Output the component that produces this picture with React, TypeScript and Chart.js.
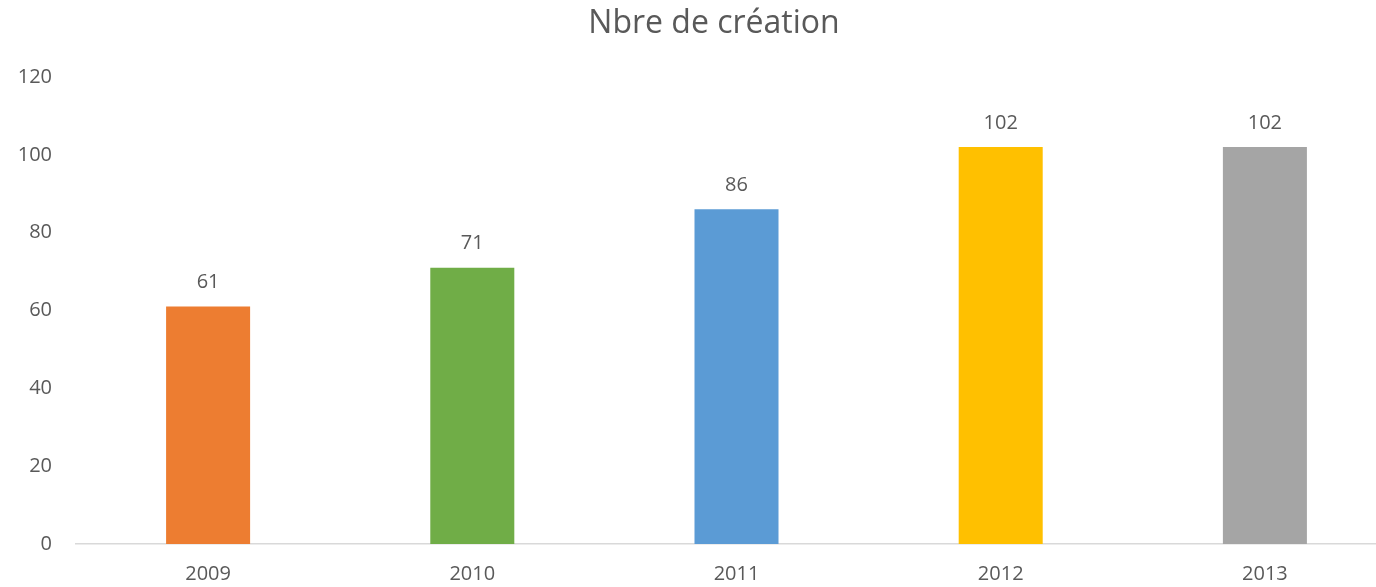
import React, { useEffect, useRef } from "react";
import { Chart, registerables } from "chart.js";

Chart.register(...registerables);

const categories = ["2009", "2010", "2011", "2012", "2013"];
const values = [61, 71, 86, 102, 102];
const barColors = ["#ED7D31", "#70AD47", "#5B9BD5", "#FFC000", "#A5A5A5"];
const yTicks = [0, 20, 40, 60, 80, 100, 120];
const titleText = "Nbre de création";

const FONT = "'Open Sans', 'Noto Sans', sans-serif";
const TEXT = "#595959";

const valueLabels = {
  id: "valueLabels",
  afterDatasetsDraw(chart: any) {
    const ctx = chart.ctx;
    const meta = chart.getDatasetMeta(0);
    ctx.save();
    ctx.font = `20px ${FONT}`;
    ctx.fillStyle = TEXT;
    ctx.textAlign = "center";
    ctx.textBaseline = "middle";
    meta.data.forEach((bar: any, i: number) => {
      ctx.fillText(String(values[i]), bar.x, bar.y - 24);
    });
    ctx.restore();
  },
};

const chartTitle = {
  id: "chartTitle",
  afterDraw(chart: any) {
    const ctx = chart.ctx;
    ctx.save();
    ctx.font = `32px ${FONT}`;
    ctx.fillStyle = TEXT;
    ctx.textAlign = "center";
    ctx.textBaseline = "middle";
    ctx.fillText(titleText, 714, 24);
    ctx.restore();
  },
};

export default function App() {
  const ref = useRef<HTMLCanvasElement | null>(null);
  useEffect(() => {
    if (!ref.current) return;
    const chart = new Chart(ref.current, {
      type: "bar",
      data: {
        labels: categories,
        datasets: [
          {
            data: values,
            backgroundColor: barColors,
            categoryPercentage: 1,
            barPercentage: 0.318,
          },
        ],
      },
      options: {
        animation: false,
        responsive: false,
        layout: { padding: { left: 0, right: 3, top: 77, bottom: 0 } },
        plugins: {
          legend: { display: false },
          tooltip: { enabled: false },
          title: { display: false },
        },
        scales: {
          x: {
            grid: { display: false, drawTicks: false },
            border: { display: true, color: "#D9D9D9", width: 1.5 },
            ticks: {
              color: TEXT,
              font: { family: FONT, size: 20 },
              padding: 18,
            },
            afterFit: (s: any) => {
              s.height = 43;
            },
          },
          y: {
            min: 0,
            max: 120,
            grid: { display: false, drawTicks: false },
            border: { display: false },
            afterBuildTicks: (s: any) => {
              s.ticks = yTicks.map((v) => ({ value: v }));
            },
            ticks: {
              color: TEXT,
              font: { family: FONT, size: 20 },
              padding: 24,
            },
            afterFit: (s: any) => {
              s.width = 76;
            },
          },
        },
      },
      plugins: [valueLabels, chartTitle],
    });
    return () => chart.destroy();
  }, []);
  return (
    <div
      style={{
        position: "fixed",
        left: 0,
        top: 0,
        width: 1376,
        height: 587,
        overflow: "hidden",
        background: "#fff",
      }}
    >
      <canvas ref={ref} width={1400} height={587} style={{ display: "block", width: 1400, height: 587 }} />
    </div>
  );
}
